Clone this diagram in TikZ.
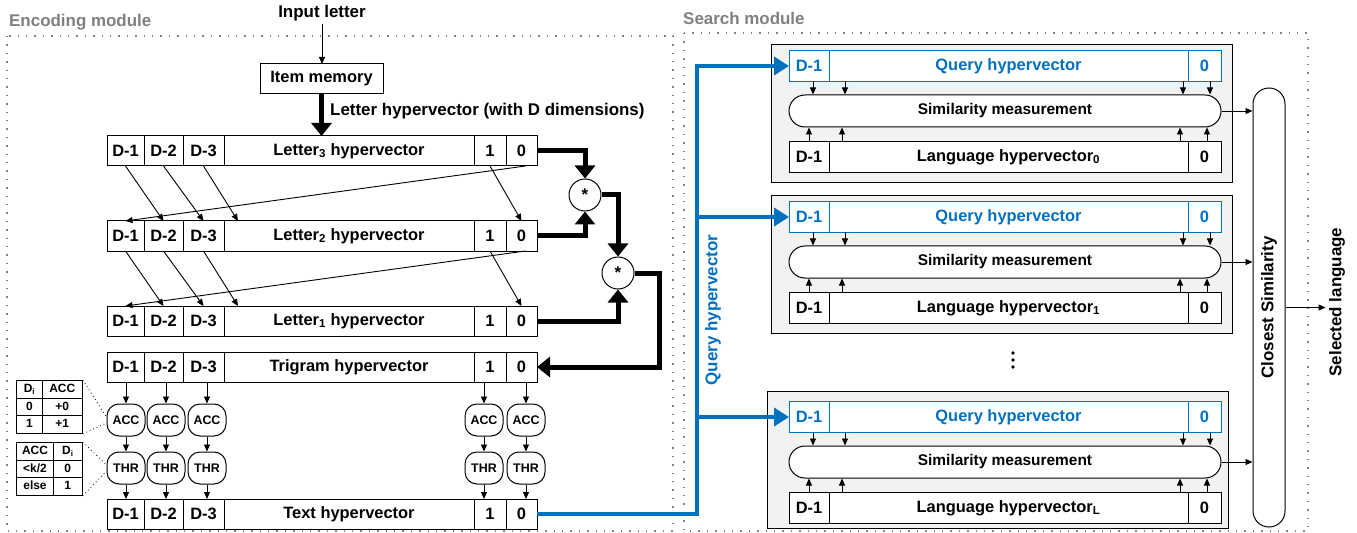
\documentclass[tikz,border=0pt]{standalone}
\usepackage{fontspec}
\setmainfont{Liberation Sans}
\usepackage{array}
\usetikzlibrary{positioning,arrows.meta}
\definecolor{qblue}{RGB}{0,112,192}
\definecolor{modgray}{RGB}{128,128,128}
\definecolor{boxgray}{RGB}{242,242,242}
\setlength\tabcolsep{2bp}
\setlength\arrayrulewidth{0.8bp}
\renewcommand\arraystretch{1.2}

\tikzset{
  cell/.style={draw, line width=1bp, fill=white, minimum height=30bp, inner sep=0pt, outer sep=0pt, font=\fontsize{16.5}{19}\selectfont\bfseries},
  qcell/.style={cell, draw=qblue, text=qblue, minimum height=31bp},
  acc/.style={draw, line width=1bp, rounded corners=12bp, minimum width=38bp, minimum height=32bp, inner sep=0pt, font=\fontsize{12.5}{14}\selectfont\bfseries},
  mul/.style={circle, draw, line width=1bp, minimum size=32bp, inner sep=0pt},
  sbox/.style={draw, line width=1bp, fill=boxgray, minimum width=461bp, inner sep=0pt},
  simpill/.style={draw, line width=1bp, fill=white, rounded corners=16bp, minimum width=432bp, minimum height=32bp, font=\fontsize{15.5}{18}\selectfont\bfseries},
  tabl/.style={inner sep=0pt, anchor=north west, font=\fontsize{12}{14}\selectfont\bfseries},
  modlabel/.style={inner sep=0pt, anchor=west, text=modgray},
  modframe/.style={draw=modgray, line width=1.4bp, dash pattern=on 1.4bp off 7bp},
  arr/.style={line width=0.9bp, -{Triangle[length=7bp,width=6bp]}},
  fatarr/.style={line width=5bp, -{Triangle[length=13bp,width=20bp]}},
  qline/.style={draw=qblue, line width=4.5bp, -{Triangle[length=15bp,width=18bp]}},
  dots/.style={line width=0.8bp, dash pattern=on 0.8bp off 3bp},
}

\begin{document}
\begin{tikzpicture}[x=1bp, y=-1bp, font=\fontsize{17}{20}\selectfont\bfseries]
\useasboundingbox (0,0) rectangle (1357,533);
\draw[modframe] (7,36) rectangle (673,531);
\draw[modframe] (684,33) rectangle (1308,531);
\node[modlabel] (enclab) at (9,22) {Encoding module};
\node[modlabel] (seclab) at (683,18) {Search module};

\node (inp) at (322,13) {Input letter};
\node[cell, minimum width=123bp] (mem) at (321.5,79) {Item memory};
\node[anchor=west, inner sep=0pt] (lhv) at (330,111) {Letter hypervector (with D dimensions)};

\foreach \r/\y/\lbl in {l3/151/Letter\textsubscript{3} hypervector, l2/236/Letter\textsubscript{2} hypervector, l1/321/Letter\textsubscript{1} hypervector, tri/367/Trigram hypervector, txt/514/Text hypervector}{
  \node[cell, minimum width=37bp, anchor=west] (\r-d1) at (107,\y) {D-1};
  \node[cell, minimum width=39bp, right=0pt of \r-d1] (\r-d2) {D-2};
  \node[cell, minimum width=41bp, right=0pt of \r-d2] (\r-d3) {D-3};
  \node[cell, minimum width=250bp, right=0pt of \r-d3] (\r-m) {\lbl};
  \node[cell, minimum width=32bp, right=0pt of \r-m] (\r-one) {1};
  \node[cell, minimum width=31bp, right=0pt of \r-one] (\r-zero) {0};
}

\draw[arr] (inp) -- (inp |- mem.north);
\draw[fatarr] (mem) -- (mem |- l3-m.north);

\foreach \a/\b in {l3/l2, l2/l1}{
  \draw[arr] (\a-d1.south) -- (\b-d2.north);
  \draw[arr] (\a-d2.south) -- (\b-d3.north);
  \draw[arr] (\a-d3.south) -- ([xshift=14bp]\b-m.north west);
  \draw[arr] (\a-one.south) -- (\b-zero.north);
  \draw[arr] ([xshift=4bp]\a-zero.south) -- (\b-d1.north);
}

\node[mul] (mul1) at (585,195) {*};
\node[mul] (mul2) at (618,273) {*};
\draw[fatarr] (l3-zero.east) -| (mul1.north);
\draw[fatarr] (l2-zero.east) -| (mul1.south);
\draw[fatarr] (mul1.east) -| (mul2.north);
\draw[fatarr] (l1-zero.east) -| (mul2.south);
\draw[fatarr] (mul2.east) -- ++(25,0) |- (tri-zero.east);

\foreach \i/\x/\c in {1/126/d1, 2/166/d2, 3/207/d3, 4/484/one, 5/526/zero}{
  \node[acc] (acc\i) at (\x,420) {ACC};
  \node[acc, below=15bp of acc\i] (thr\i) {THR};
  \draw[arr] (acc\i |- tri-\c.south) -- (acc\i);
  \draw[arr] (acc\i) -- (thr\i);
  \draw[arr] (thr\i) -- (thr\i |- txt-\c.north);
}

\node[tabl] (tab1) at (16,380) {\begin{tabular}{|wc{21bp}|wc{35bp}|}\hline
  D\textsubscript{i} & ACC\\\hline 0 & +0\\\hline 1 & +1\\\hline\end{tabular}};
\node[tabl] (tab2) at (16,442) {\begin{tabular}{|wc{32bp}|wc{24bp}|}\hline
  ACC & D\textsubscript{i}\\\hline <k/2 & 0\\\hline else & 1\\\hline\end{tabular}};
\draw[dots] (tab1.north east) -- ([yshift=3bp]acc1.west);
\draw[dots] (tab1.south east) -- ([yshift=-3bp]acc1.west);
\draw[dots] (tab2.north east) -- ([yshift=3bp]thr1.west);
\draw[dots] (tab2.south east) -- ([yshift=-3bp]thr1.west);

\foreach \k/\q/\bx/\by/\bh/\s in {1/66/771/44/138/0, 2/217/771/195/138/1, 3/417/767/391/137/L}{
  \node[sbox, minimum height=\bh bp, anchor=north west] (sb\k) at (\bx,\by) {};
  \node[qcell, minimum width=40bp, anchor=west] (q\k-d1) at (789,\q) {D-1};
  \node[qcell, minimum width=359bp, right=0pt of q\k-d1] (q\k-m) {Query hypervector};
  \node[qcell, minimum width=33bp, right=0pt of q\k-m] (q\k-zero) {0};
  \node[simpill] (sim\k) at (1005,\q+45) {Similarity measurement};
  \node[cell, minimum width=40bp, minimum height=31bp, anchor=west] (lg\k-d1) at (789,\q+91) {D-1};
  \node[cell, minimum width=359bp, minimum height=31bp, right=0pt of lg\k-d1] (lg\k-m) {Language hypervector\textsubscript{\s}};
  \node[cell, minimum width=33bp, minimum height=31bp, right=0pt of lg\k-m] (lg\k-zero) {0};
  \foreach \x in {813,845,1183,1210}
    \draw[arr] (\x,0 |- q\k-m.south) -- (\x,0 |- sim\k.north);
  \foreach \x in {809,842,1180,1207}
    \draw[arr] (\x,0 |- lg\k-m.north) -- (\x,0 |- sim\k.south);
}

\coordinate (bus) at (697,0);
\draw[qline] (txt-zero.east) -- (txt-zero.east -| bus) |- (q1-d1.west);
\draw[qline] ([xshift=-2bp]bus |- q2-d1.west) -- (q2-d1.west);
\draw[qline] ([xshift=-2bp]bus |- q3-d1.west) -- (q3-d1.west);
\node[rotate=90, text=qblue] (qlab) at (713,310) {Query hypervector};

\node[draw, line width=1bp, rounded corners=16bp, minimum width=439bp, minimum height=32bp, rotate=90] (cs) at (1269,307.5) {Closest Similarity};
\foreach \k in {1,2,3}
  \draw[arr] (sim\k.east) -- (sim\k.east -| cs.north);
\node[rotate=90] (sel) at (1337,302) {Selected language};
\draw[arr] (cs.south) -- (cs.south -| sel.north);

\foreach \d in {353,360,367}
  \fill (1013,\d) circle (1.8bp);
\end{tikzpicture}
\end{document}
